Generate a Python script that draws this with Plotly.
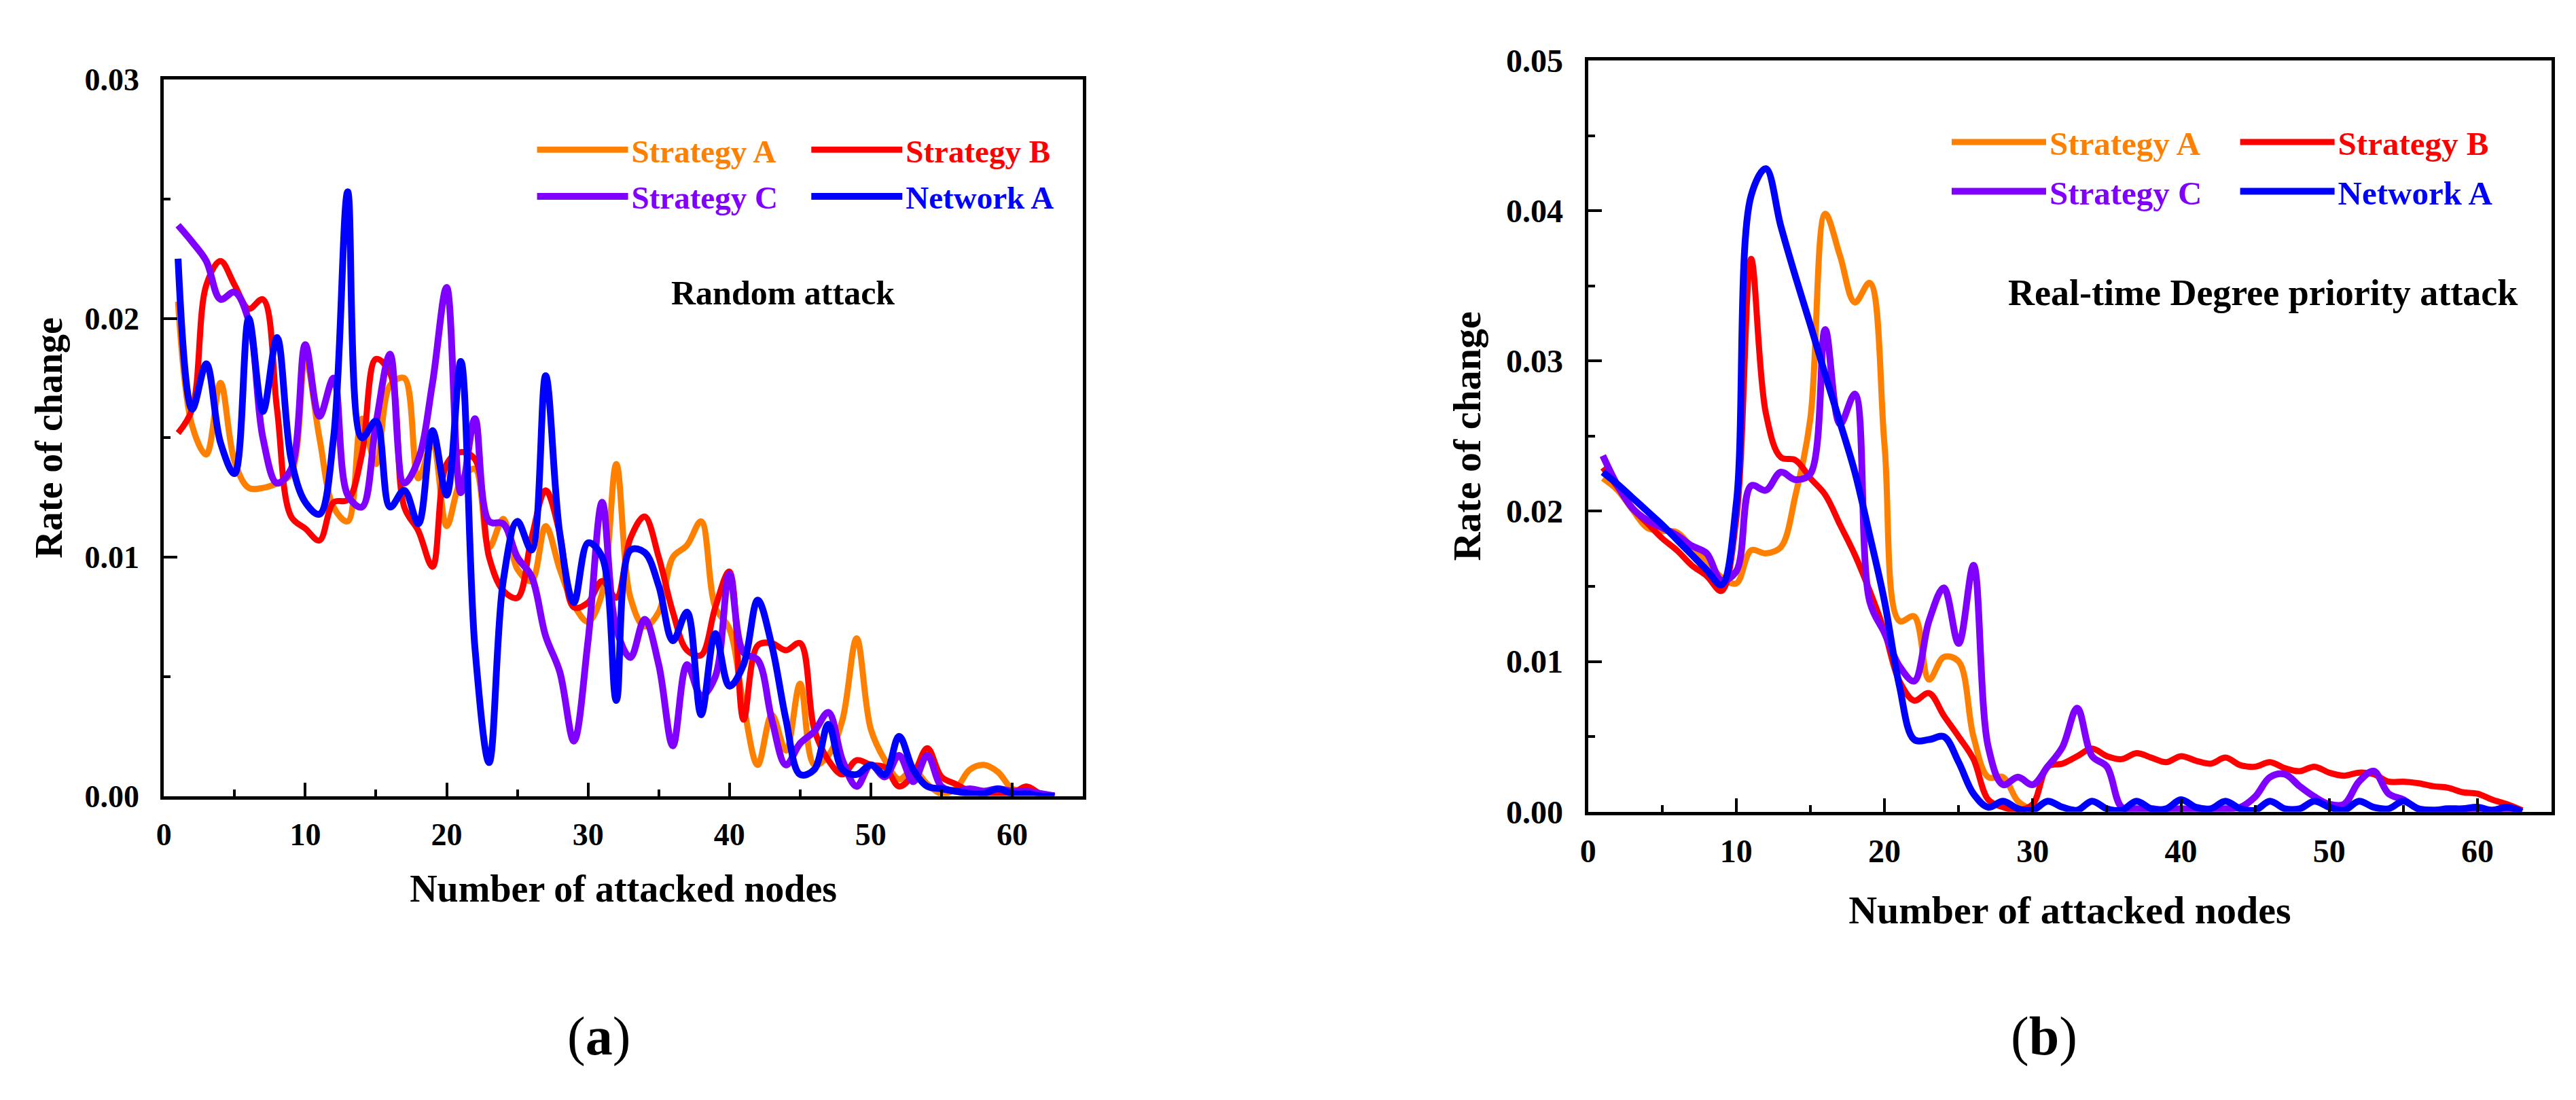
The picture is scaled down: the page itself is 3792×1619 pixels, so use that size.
import plotly.graph_objects as go

# attacked node count (x axis)
nodes = list(range(1, 64))

# (a) random attack - rate of change
rand_strategy_a = [0.0207, 0.0155, 0.0143, 0.0173, 0.0140, 0.0129, 0.0129, 0.0131, 0.0135, 0.0183,
                   0.0150, 0.0121, 0.0115, 0.0158, 0.0139, 0.0172, 0.0175, 0.0133, 0.0148, 0.0113,
                   0.0132, 0.0137, 0.0104, 0.0116, 0.0095, 0.0090, 0.0113, 0.0095, 0.0080, 0.0073,
                   0.0085, 0.0139, 0.0083, 0.0071, 0.0077, 0.0100, 0.0105, 0.0115, 0.0079, 0.0070,
                   0.0038, 0.0013, 0.0034, 0.0019, 0.0047, 0.0013, 0.0017, 0.0032, 0.0066, 0.0028,
                   0.0015, 0.0007, 0.0011, 0.0005, 0.0001, 0.0003, 0.0011, 0.0013, 0.0010, 0.0003,
                   0.0002, 0.0001, 0.0000]
rand_strategy_b = [0.0152, 0.0162, 0.0214, 0.0224, 0.0214, 0.0204, 0.0208, 0.0162, 0.0117, 0.0112,
                   0.0107, 0.0123, 0.0124, 0.0143, 0.0183, 0.0177, 0.0121, 0.0111, 0.0096, 0.0139,
                   0.0144, 0.0141, 0.0100, 0.0086, 0.0083, 0.0108, 0.0128, 0.0110, 0.0079, 0.0081,
                   0.0090, 0.0083, 0.0108, 0.0117, 0.0100, 0.0077, 0.0061, 0.0059, 0.0079, 0.0094,
                   0.0032, 0.0063, 0.0064, 0.0061, 0.0064, 0.0028, 0.0015, 0.0009, 0.0015, 0.0013,
                   0.0012, 0.0004, 0.0009, 0.0020, 0.0008, 0.0005, 0.0002, 0.0001, 0.0001, 0.0001,
                   0.0004, 0.0001, 0.0000]
rand_strategy_c = [0.0239, 0.0232, 0.0224, 0.0208, 0.0211, 0.0199, 0.0150, 0.0131, 0.0137, 0.0189,
                   0.0159, 0.0175, 0.0126, 0.0121, 0.0156, 0.0185, 0.0131, 0.0141, 0.0173, 0.0213,
                   0.0127, 0.0158, 0.0115, 0.0114, 0.0100, 0.0092, 0.0067, 0.0052, 0.0023, 0.0065,
                   0.0123, 0.0070, 0.0058, 0.0074, 0.0055, 0.0021, 0.0055, 0.0042, 0.0050, 0.0093,
                   0.0060, 0.0057, 0.0032, 0.0013, 0.0022, 0.0027, 0.0035, 0.0015, 0.0004, 0.0013,
                   0.0008, 0.0017, 0.0006, 0.0017, 0.0004, 0.0002, 0.0003, 0.0002, 0.0003, 0.0002,
                   0.0002, 0.0001, 0.0000]
rand_network_a = [0.0225, 0.0162, 0.0181, 0.0148, 0.0135, 0.0200, 0.0161, 0.0192, 0.0141, 0.0123,
                  0.0118, 0.0150, 0.0253, 0.0150, 0.0157, 0.0121, 0.0128, 0.0114, 0.0153, 0.0126,
                  0.0182, 0.0062, 0.0014, 0.0090, 0.0115, 0.0103, 0.0176, 0.0110, 0.0081, 0.0106,
                  0.0100, 0.0040, 0.0103, 0.0102, 0.0088, 0.0065, 0.0077, 0.0034, 0.0068, 0.0046,
                  0.0055, 0.0082, 0.0063, 0.0032, 0.0009, 0.0011, 0.0030, 0.0011, 0.0009, 0.0013,
                  0.0009, 0.0025, 0.0011, 0.0004, 0.0003, 0.0002, 0.0001, 0.0001, 0.0003, 0.0001,
                  0.0001, 0.0000, 0.0000]

# (b) real-time degree priority attack - rate of change
deg_strategy_a = [0.0222, 0.0214, 0.0201, 0.0189, 0.0187, 0.0186, 0.0176, 0.0167, 0.0156, 0.0152,
                  0.0174, 0.0172, 0.0176, 0.0211, 0.0262, 0.0398, 0.0370, 0.0339, 0.0352, 0.0244,
                  0.0127, 0.0130, 0.0088, 0.0103, 0.0100, 0.0050, 0.0023, 0.0023, 0.0007, 0.0001]
deg_strategy_b = [0.0229, 0.0216, 0.0202, 0.0192, 0.0182, 0.0174, 0.0164, 0.0157, 0.0147, 0.0195,
                  0.0368, 0.0265, 0.0236, 0.0234, 0.0222, 0.0211, 0.0191, 0.0171, 0.0147, 0.0120,
                  0.0087, 0.0074, 0.0079, 0.0064, 0.0050, 0.0035, 0.0008, 0.0003, 0.0001, 0.0005,
                  0.0030, 0.0032, 0.0037, 0.0042, 0.0037, 0.0035, 0.0039, 0.0036, 0.0033, 0.0037,
                  0.0034, 0.0032, 0.0036, 0.0031, 0.0030, 0.0033, 0.0029, 0.0027, 0.0030, 0.0026,
                  0.0024, 0.0026, 0.0025, 0.0020, 0.0020, 0.0019, 0.0017, 0.0016, 0.0013, 0.0012,
                  0.0008, 0.0005, 0.0001]
deg_strategy_c = [0.0237, 0.0217, 0.0202, 0.0194, 0.0189, 0.0184, 0.0177, 0.0172, 0.0154, 0.0160,
                  0.0217, 0.0214, 0.0226, 0.0221, 0.0225, 0.0321, 0.0258, 0.0278, 0.0140, 0.0119,
                  0.0097, 0.0087, 0.0127, 0.0149, 0.0112, 0.0164, 0.0043, 0.0018, 0.0023, 0.0018,
                  0.0030, 0.0043, 0.0069, 0.0037, 0.0030, 0.0003, 0.0002, 0.0002, 0.0001, 0.0002,
                  0.0001, 0.0001, 0.0002, 0.0003, 0.0010, 0.0023, 0.0025, 0.0017, 0.0010, 0.0005,
                  0.0005, 0.0020, 0.0027, 0.0012, 0.0008, 0.0002, 0.0001, 0.0001, 0.0001, 0.0001,
                  0.0001, 0.0001, 0.0000]
deg_network_a = [0.0226, 0.0218, 0.0209, 0.0200, 0.0191, 0.0181, 0.0171, 0.0161, 0.0151, 0.0205,
                 0.0410, 0.0428, 0.0390, 0.0356, 0.0324, 0.0291, 0.0259, 0.0226, 0.0184, 0.0140,
                 0.0084, 0.0048, 0.0048, 0.0050, 0.0033, 0.0012, 0.0003, 0.0007, 0.0002, 0.0001,
                 0.0007, 0.0003, 0.0001, 0.0007, 0.0002, 0.0001, 0.0007, 0.0002, 0.0002, 0.0008,
                 0.0003, 0.0002, 0.0007, 0.0002, 0.0001, 0.0007, 0.0002, 0.0002, 0.0007, 0.0003,
                 0.0001, 0.0007, 0.0003, 0.0002, 0.0007, 0.0002, 0.0001, 0.0002, 0.0002, 0.0003,
                 0.0001, 0.0003, 0.0000]

series_names = ["Strategy A", "Strategy B", "Strategy C", "Network A"]
series_colors = ["#FF8000", "#FF0000", "#8000FF", "#0000FF"]
line_widths = [9, 9, 10, 10]

W, H = 3792, 1619
FONT = "Liberation Serif, Times New Roman, serif"


def fx(p):
    return p / W


def fy(p):
    return 1 - p / H


fig = go.Figure()

panel_a = [rand_strategy_a, rand_strategy_b, rand_strategy_c, rand_network_a]
panel_b = [deg_strategy_a, deg_strategy_b, deg_strategy_c, deg_network_a]

# legend slots: (line start x, row y) in pixels, order A, B, C, Network
leg_a = [(783, 193), (1188, 193), (783, 264), (1188, 264)]
leg_b = [(2872, 181), (3298, 181), (2872, 256), (3298, 256)]

legends = {}
for i, (name, col, lw) in enumerate(zip(series_names, series_colors, line_widths)):
    ya = panel_a[i]
    key = "legend" if i == 0 else f"legend{i + 1}"
    fig.add_trace(go.Scatter(x=nodes[:len(ya)], y=ya, mode="lines", name=name,
                             line=dict(color=col, width=lw, shape="spline", smoothing=1.0),
                             xaxis="x", yaxis="y", legend=key))
    legends[key] = dict(
        x=fx(leg_a[i][0] - 15), y=fy(leg_a[i][1]), xanchor="left", yanchor="middle",
        bgcolor="rgba(0,0,0,0)", itemwidth=134,
        font=dict(family=FONT, size=47, color=col, weight="bold"))
for i, (name, col, lw) in enumerate(zip(series_names, series_colors, line_widths)):
    yb = panel_b[i]
    key = f"legend{i + 5}"
    fig.add_trace(go.Scatter(x=nodes[:len(yb)], y=yb, mode="lines", name=name,
                             line=dict(color=col, width=lw, shape="spline", smoothing=1.0),
                             xaxis="x2", yaxis="y2", legend=key))
    legends[key] = dict(
        x=fx(leg_b[i][0] - 15), y=fy(leg_b[i][1]), xanchor="left", yanchor="middle",
        bgcolor="rgba(0,0,0,0)", itemwidth=139,
        font=dict(family=FONT, size=49, color=col, weight="bold"))

axis_common = dict(showgrid=False, zeroline=False, showline=True, linewidth=5, linecolor="black",
                   mirror=True, ticks="inside", tickwidth=4, tickcolor="black", ticklen=20)


def x_axis(domain, size, tsize, standoff):
    return dict(axis_common, domain=domain, range=[0, 65], tick0=0, dtick=10, ticklabelstandoff=12,
                minor=dict(ticks="inside", ticklen=10, tickwidth=4, tickcolor="black", dtick=5, tick0=0),
                tickfont=dict(family=FONT, size=size, color="black", weight="bold"),
                title=dict(text="Number of attacked nodes", standoff=standoff,
                           font=dict(family=FONT, size=tsize, color="black", weight="bold")))


def y_axis(domain, top, size, tsize, standoff, anchor):
    return dict(axis_common, domain=domain, range=[0, top], tick0=0, dtick=0.01, tickformat=".2f",
                anchor=anchor, ticklabelstandoff=22,
                minor=dict(ticks="inside", ticklen=10, tickwidth=4, tickcolor="black", dtick=0.005, tick0=0),
                tickfont=dict(family=FONT, size=size, color="black", weight="bold"),
                title=dict(text="Rate of change", standoff=standoff,
                           font=dict(family=FONT, size=tsize, color="black", weight="bold")))


fig.update_layout(
    width=W, height=H,
    margin=dict(l=0, r=0, t=0, b=0),
    paper_bgcolor="white", plot_bgcolor="white",
    showlegend=True,
    xaxis=dict(x_axis([fx(222), fx(1579)], 46, 56, 37), anchor="y"),
    yaxis=y_axis([fy(1176), fy(86)], 0.03, 46, 56, 16, "x"),
    xaxis2=dict(x_axis([fx(2325), fx(3748)], 48, 58, 42), anchor="y2"),
    yaxis2=y_axis([fy(1200), fy(57)], 0.05, 48, 58, 20, "x2"),
    annotations=[
        dict(text="Random attack", x=fx(1136), y=fy(410), xref="paper", yref="paper",
             showarrow=False, xanchor="center", yanchor="middle",
             font=dict(family=FONT, size=50, color="black", weight="bold")),
        dict(text="Real-time Degree priority attack", x=fx(3322), y=fy(410), xref="paper", yref="paper",
             showarrow=False, xanchor="center", yanchor="middle",
             font=dict(family=FONT, size=54, color="black", weight="bold")),
        dict(text="(<b>a</b>)", x=fx(864), y=fy(1542), xref="paper", yref="paper",
             showarrow=False, xanchor="center", yanchor="middle",
             font=dict(family=FONT, size=80, color="black")),
        dict(text="(<b>b</b>)", x=fx(2998), y=fy(1542), xref="paper", yref="paper",
             showarrow=False, xanchor="center", yanchor="middle",
             font=dict(family=FONT, size=80, color="black")),
    ],
    **legends,
)

fig.write_html("out.html")
